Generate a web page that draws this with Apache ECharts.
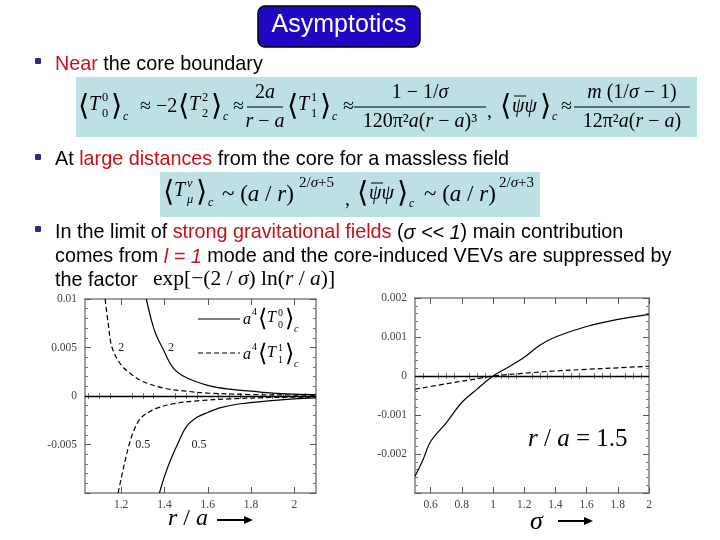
<!DOCTYPE html>
<html><head><meta charset="utf-8">
<script src="https://cdn.jsdelivr.net/npm/echarts@6/dist/echarts.min.js"></script>
<style>html,body{margin:0;padding:0;background:#fff}#c{width:720px;height:540px}</style>
</head><body><div id="c"></div>
<script>
// ---------- data ----------
// left chart: r/a vs a^4 <T>_c  (sigma = 2 positive, sigma = 0.5 negative)
const rSolid2   = [1.316, 1.34, 1.36, 1.39, 1.44, 1.5, 1.6, 1.7, 1.8, 1.9, 2.0, 2.1];
const vSolid2   = [0.01, 0.0078, 0.0064, 0.005, 0.0029, 0.0019, 0.0011, 0.0007, 0.0005, 0.0003, 0.0002, 0.00015];
const rDash2    = [1.126, 1.14, 1.158, 1.2, 1.25, 1.3, 1.4, 1.5, 1.6, 1.8, 2.0, 2.1];
const vDash2    = [0.01, 0.0075, 0.005, 0.0032, 0.0022, 0.0015, 0.0008, 0.0005, 0.0003, 0.00015, 0.0001, 0.00007];
const rSolid05  = [1.377, 1.4, 1.43, 1.46, 1.5, 1.55, 1.6, 1.66, 1.75, 1.88, 2.0, 2.1];
const vSolid05  = [-0.01, -0.0083, -0.0065, -0.005, -0.0032, -0.0022, -0.0017, -0.0012, -0.0008, -0.0005, -0.0003, -0.0002];
const rDash05   = [1.186, 1.2, 1.22, 1.237, 1.26, 1.29, 1.35, 1.44, 1.55, 1.7, 1.9, 2.1];
const vDash05   = [-0.01, -0.0085, -0.0065, -0.005, -0.0035, -0.0023, -0.0014, -0.0008, -0.0005, -0.0003, -0.00015, -0.0001];
// right chart: sigma vs value at r/a = 1.5
const sigSolid  = [0.5, 0.55, 0.6, 0.7, 0.8, 0.9, 1.0, 1.1, 1.2, 1.3, 1.4, 1.6, 1.8, 2.0];
const vSigSolid = [-0.00257, -0.00216, -0.00168, -0.0012, -0.00068, -0.00033, 0, 0.00023, 0.00048, 0.00079, 0.001, 0.00127, 0.00145, 0.00158];
const sigDash   = [0.5, 0.7, 0.9, 1.0, 1.2, 1.4, 1.6, 1.8, 2.0];
const vSigDash  = [-0.00034, -0.0002, -0.00007, 0, 0.00007, 0.00013, 0.00017, 0.00021, 0.00025];
// tick labels
const leftXTicks   = [1.2, 1.4, 1.6, 1.8, 2];
const leftXMinor   = [1.05, 1.1, 1.15, 1.25, 1.3, 1.35, 1.45, 1.5, 1.55, 1.65, 1.7, 1.75, 1.85, 1.9, 1.95, 2.05];
const leftYLabels  = [0.01, 0.005, 0, -0.005];
const rightXTicks  = [0.6, 0.8, 1, 1.2, 1.4, 1.6, 1.8, 2];
const rightXMinor  = [0.55, 0.65, 0.7, 0.75, 0.85, 0.9, 0.95, 1.05, 1.1, 1.15, 1.25, 1.3, 1.35, 1.45, 1.5, 1.55, 1.65, 1.7, 1.75, 1.85, 1.9, 1.95];
const rightYLabels = [0.002, 0.001, 0, -0.001, -0.002];
const curveLabels  = [{t:'2', x:1.2, y:0.005}, {t:'2', x:1.43, y:0.005}, {t:'0.5', x:1.3, y:-0.005}, {t:'0.5', x:1.56, y:-0.005}];

// ---------- chart ----------
const chart = echarts.init(document.getElementById('c'), null, {renderer:'canvas'});
const zip = (a, b) => a.map((v, i) => [v, b[i]]);
const frameColor = '#808080';
const lblStyle = {fontFamily:'Liberation Serif', fontSize:11.5, color:'#444'};

function xAxes(grid, min, max, major, minor) {
  const base = {type:'value', gridIndex:grid, min, max, splitLine:{show:false},
    axisLine:{show:true, onZero:false, lineStyle:{color:frameColor, width:1.5}}};
  return [
    Object.assign({}, base, {position:'bottom', axisTick:{inside:true, length:6, customValues:major, lineStyle:{color:'#555'}},
      axisLabel:Object.assign({customValues:major, margin:6, formatter:v => String(v)}, lblStyle)}),
    Object.assign({}, base, {position:'top', axisTick:{inside:true, length:6, customValues:major, lineStyle:{color:'#555'}}, axisLabel:{show:false}}),
    Object.assign({}, base, {position:'bottom', axisLine:{show:false}, axisTick:{inside:true, length:3, customValues:minor, lineStyle:{color:'#777'}}, axisLabel:{show:false}}),
    Object.assign({}, base, {position:'top', axisLine:{show:false}, axisTick:{inside:true, length:3, customValues:minor, lineStyle:{color:'#777'}}, axisLabel:{show:false}})
  ];
}
function yAxes(grid, min, max, interval, labels) {
  const base = {type:'value', gridIndex:grid, min, max, interval, splitLine:{show:false},
    axisLine:{show:true, onZero:false, lineStyle:{color:frameColor, width:1.5}},
    axisTick:{inside:true, length:6, lineStyle:{color:'#555'}},
    minorTick:{show:true, splitNumber:5, length:3, lineStyle:{color:'#777'}}};
  return [
    Object.assign({}, base, {position:'left', axisLabel:Object.assign({margin:8,
      formatter:v => labels.some(l => Math.abs(l - v) < 1e-9) ? String(+v.toFixed(4)) : ''}, lblStyle)}),
    Object.assign({}, base, {position:'right', axisLabel:{show:false}})
  ];
}

const solid = {type:'solid', width:1.2, color:'#000'};
const dashed = {type:[5,3], width:1.2, color:'#000'};
function line(xi, yi, data, ls) {
  return {type:'line', xAxisIndex:xi, yAxisIndex:yi, data, showSymbol:false, symbol:'none', smooth:0.35,
    lineStyle:ls, clip:true, silent:true, z:3};
}
const zeroLine = (xi, yi) => ({type:'line', xAxisIndex:xi, yAxisIndex:yi, data:[], silent:true,
  markLine:{symbol:'none', silent:true, label:{show:false}, lineStyle:{color:'#000', type:'solid', width:1.3}, data:[{yAxis:0}]}});

const serif = 'Liberation Serif, DejaVu Serif, serif';
const sans = 'Liberation Sans, Arial, sans-serif';
const G = [];
function T(x, y, text, o) {
  o = o || {};
  G.push({type:'text', x, y, z:10, style:{text, fill:o.fill || '#000', fontSize:o.size || 20,
    fontFamily:o.font || serif, fontStyle:o.italic ? 'italic' : 'normal',
    align:o.align || 'left', verticalAlign:'middle', fontWeight:o.bold ? 'bold' : 'normal'}});
}
// rich serif text: {i|...} italic parts
function M(x, y, text, size, align) {
  G.push({type:'text', x, y, z:10, style:{text, fill:'#000', fontSize:size, fontFamily:serif,
    align:align || 'left', verticalAlign:'middle',
    rich:{i:{fontStyle:'italic', fontSize:size, fontFamily:serif, fill:'#000'}}}});
}
function L(x1, y1, x2, y2, w, dash) {
  G.push({type:'line', z:10, shape:{x1, y1, x2, y2}, style:{stroke:'#000', lineWidth:w || 1, lineDash:dash || null}});
}
function R(x, y, w, h, fill, stroke, r) {
  G.push({type:'rect', z:5, shape:{x, y, width:w, height:h, r:r || 0}, style:{fill, stroke:stroke || null, lineWidth:1.5}});
}
// <T^a_b>_c
function bracketT(x, y, sup, sub, size) {
  size = size || 20;
  T(x, y, '⟨', {size:size * 1.45, font:'DejaVu Serif'});
  T(x + 11, y - 2, 'T', {size, italic:true});
  T(x + 24, y - 9, sup, {size:size * 0.62, italic:isNaN(+sup)});
  T(x + 24, y + 7, sub, {size:size * 0.62, italic:isNaN(+sub)});
  T(x + 33, y, '⟩', {size:size * 1.45, font:'DejaVu Serif'});
  T(x + 45, y + 10, 'c', {size:size * 0.6, italic:true});
}
function bracketPsi(x, y, size) {
  size = size || 20;
  T(x, y, '⟨', {size:size * 1.45, font:'DejaVu Serif'});
  T(x + 12, y, 'ψψ', {size, italic:true});
  L(x + 14, y - 11, x + 26, y - 11, 1);
  T(x + 40, y, '⟩', {size:size * 1.45, font:'DejaVu Serif'});
  T(x + 52, y + 10, 'c', {size:size * 0.6, italic:true});
}
function frac(cx, y, num, den, w, size) {
  M(cx, y - 14, num, size, 'center');
  L(cx - w / 2, y, cx + w / 2, y, 1.2);
  M(cx, y + 15, den, size, 'center');
}

// Title
R(258, 6, 162, 41, '#1e08c4', '#000', 7);
T(339, 25, 'Asymptotics', {size:25, font:sans, fill:'#fff', align:'center'});

// bullets
const bulletC = '#2b2b7a';
const FS = 19.8;
function bullet(y) { R(35, y - 3, 6, 6, bulletC, null, 1); }
function rich(x, y, parts) {
  G.push({type:'text', x, y, z:10, style:{text:parts.map(p => '{' + (p[1] || 'n') + '|' + p[0] + '}').join(''),
    verticalAlign:'middle', fontSize:FS, fontFamily:sans,
    rich:{n:{fill:'#000', fontSize:FS, fontFamily:sans}, r:{fill:'#c2121c', fontSize:FS, fontFamily:sans},
      ri:{fill:'#c2121c', fontSize:FS, fontFamily:sans, fontStyle:'italic'}, i:{fill:'#000', fontSize:FS, fontFamily:sans, fontStyle:'italic'}}}});
}
bullet(61);
rich(55, 65, [['Near', 'r'], [' the core boundary']]);
bullet(157);
rich(55, 160, [['At '], ['large distances', 'r'], [' from the core for a massless field']]);
bullet(229);
rich(55, 233, [['In the limit of '], ['strong gravitational fields', 'r'], [' ('], ['σ << 1', 'i'], [') main contribution']]);
rich(55, 257, [['comes from '], ['l = 1', 'ri'], [' mode and the core-induced VEVs are suppressed by']]);
rich(55, 281, [['the factor']]);
M(153, 279, 'exp[−(2 / {i|σ}) ln({i|r} / {i|a})]', 21.5);

// Formula box 1
R(76, 77, 621, 60, '#bde0e4');
bracketT(78, 107, '0', '0');
T(140, 107, '≈ −2', {size:20});
bracketT(178, 107, '2', '2');
T(233, 107, '≈', {size:20});
frac(265, 107, '2{i|a}', '{i|r} − {i|a}', 36, 20);
bracketT(287, 107, '1', '1');
T(343, 107, '≈', {size:20});
frac(420, 107, '1 − 1/{i|σ}', '120π²{i|a}({i|r} − {i|a})³', 132, 20);
T(487, 112, ',', {size:20});
bracketPsi(500, 107);
T(561, 107, '≈', {size:20});
frac(632, 107, '{i|m} (1/{i|σ} − 1)', '12π²{i|a}({i|r} − {i|a})', 116, 20);

// Formula box 2
R(160, 172, 380, 45, '#bde0e4');
bracketT(163, 193, 'ν', 'μ', 20);
M(222, 195, '~ ({i|a} / {i|r})', 23);
M(299, 183, '2/{i|σ}+5', 15);
T(345, 200, ',', {size:20});
bracketPsi(357, 194);
M(424, 195, '~ ({i|a} / {i|r})', 23);
M(499, 183, '2/{i|σ}+3', 15);

// left chart legend
L(198, 319, 240, 319, 1.2);
L(198, 353, 240, 353, 1.2, [5, 3]);
function legT(y, idx) {
  T(243, y, 'a', {size:16, italic:true});
  T(252, y - 8, '4', {size:10});
  T(258, y, '⟨', {size:24, font:'DejaVu Serif'});
  T(267, y - 2, 'T', {size:16, italic:true});
  T(278, y - 7, idx, {size:10});
  T(278, y + 5, idx, {size:10});
  T(285, y, '⟩', {size:24, font:'DejaVu Serif'});
  T(294, y + 9, 'c', {size:10, italic:true});
}
legT(320, '0');
legT(355, '1');

// axis titles
M(168, 519, '{i|r} / {i|a}', 24);
L(217, 520, 246, 520, 2);
G.push({type:'polygon', z:10, shape:{points:[[244, 516], [253, 520], [244, 524]]}, style:{fill:'#000'}});
T(530, 522, 'σ', {size:26, italic:true});
L(558, 521, 586, 521, 2);
G.push({type:'polygon', z:10, shape:{points:[[584, 517], [593, 521], [584, 525]]}, style:{fill:'#000'}});
// right chart annotation
M(528, 439, '{i|r} / {i|a} = 1.5', 25);

const option = {
  animation:false,
  backgroundColor:'#fff',
  grid:[
    {left:85, top:299, width:231, height:194},
    {left:415, top:298, width:234, height:195}
  ],
  xAxis:[].concat(xAxes(0, 1.033, 2.1, leftXTicks, leftXMinor), xAxes(1, 0.5, 2, rightXTicks, rightXMinor)),
  yAxis:[].concat(yAxes(0, -0.01, 0.01, 0.005, leftYLabels), yAxes(1, -0.003, 0.002, 0.001, rightYLabels)),
  series:[
    zeroLine(0, 0),
    line(0, 0, zip(rSolid2, vSolid2), solid),
    line(0, 0, zip(rDash2, vDash2), dashed),
    line(0, 0, zip(rSolid05, vSolid05), solid),
    line(0, 0, zip(rDash05, vDash05), dashed),
    zeroLine(4, 2),
    line(4, 2, zip(sigSolid, vSigSolid), solid),
    line(4, 2, zip(sigDash, vSigDash), dashed)
  ],
  graphic:G
};
chart.setOption(option);
// curve value labels placed at data coordinates
const extra = curveLabels.map(c => {
  const p = chart.convertToPixel({xAxisIndex:0, yAxisIndex:0}, [c.x, c.y]);
  return {type:'text', x:p[0], y:p[1], z:10, style:{text:c.t, fontSize:12, fontFamily:serif, fill:'#222', align:'center', verticalAlign:'middle'}};
});
chart.setOption({graphic:G.concat(extra)});
</script></body></html>
